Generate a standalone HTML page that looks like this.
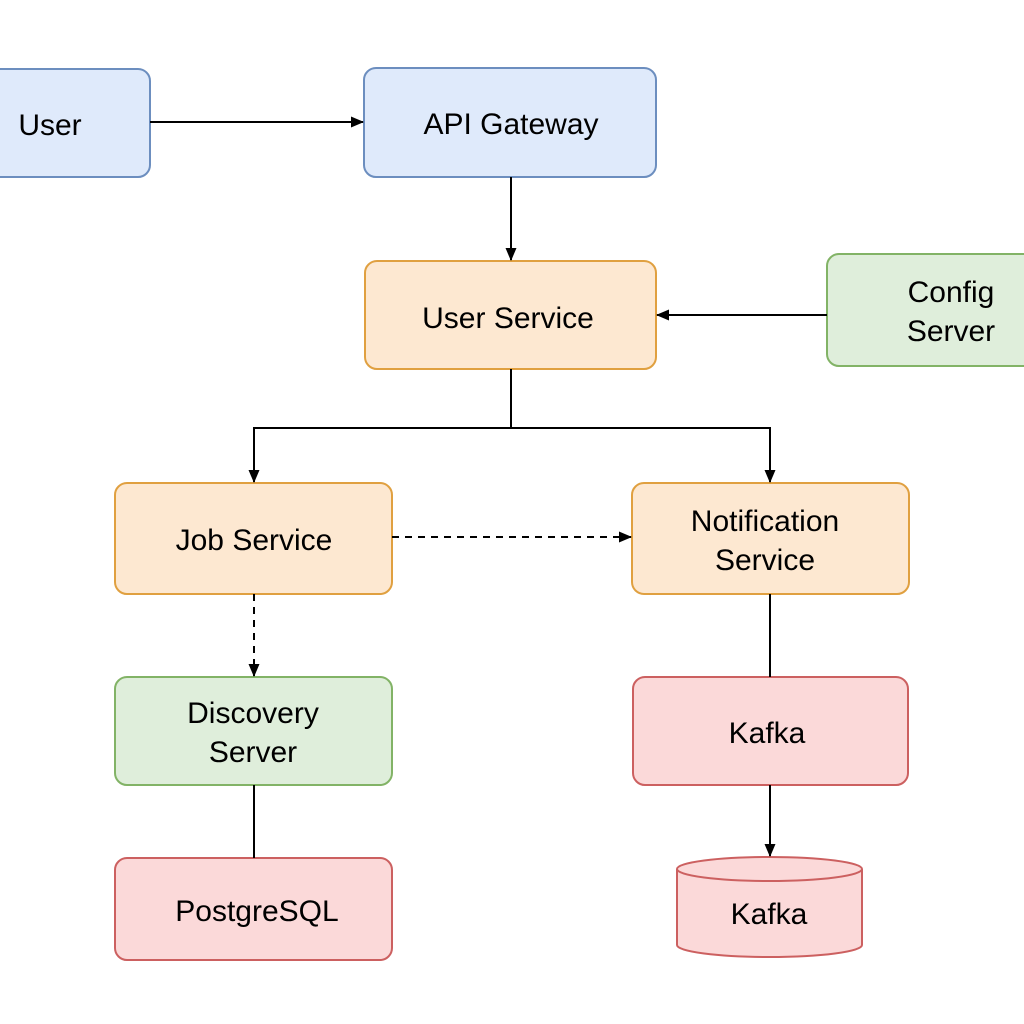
<!DOCTYPE html>
<html><head><meta charset="utf-8"><style>
html,body{margin:0;padding:0;background:#fff;width:1024px;height:1024px;overflow:hidden}
</style></head><body>
<svg width="1024" height="1024" viewBox="0 0 1024 1024" xmlns="http://www.w3.org/2000/svg" font-family="Liberation Sans, sans-serif" font-size="30" fill="#000">
<defs>
<marker id="a" markerWidth="13" markerHeight="11" refX="12" refY="5.5" orient="auto" markerUnits="userSpaceOnUse">
<path d="M0,0 L13,5.5 L0,11 Z" fill="#000"/></marker>
</defs>
<g stroke-width="2">
<rect x="-12" y="69" width="162" height="108" rx="12" fill="#dfeafb" stroke="#6c8ebf"/>
<rect x="364" y="68" width="292" height="109" rx="12" fill="#dfeafb" stroke="#6c8ebf"/>
<rect x="365" y="261" width="291" height="108" rx="12" fill="#fde8d1" stroke="#e0a040"/>
<rect x="827" y="254" width="210" height="112" rx="12" fill="#dfeedb" stroke="#82b366"/>
<rect x="115" y="483" width="277" height="111" rx="12" fill="#fde8d1" stroke="#e0a040"/>
<rect x="632" y="483" width="277" height="111" rx="12" fill="#fde8d1" stroke="#e0a040"/>
<rect x="115" y="677" width="277" height="108" rx="12" fill="#dfeedb" stroke="#82b366"/>
<rect x="633" y="677" width="275" height="108" rx="12" fill="#fbd9d9" stroke="#cc6060"/>
<rect x="115" y="858" width="277" height="102" rx="12" fill="#fbd9d9" stroke="#cc6060"/>
<path d="M677,869 L677,945 A92.5,12 0 0 0 862,945 L862,869" fill="#fbd9d9" stroke="#cc6060"/>
<ellipse cx="769.5" cy="869" rx="92.5" ry="12" fill="#fbd9d9" stroke="#cc6060"/>
</g>
<g stroke="#000" stroke-width="2" fill="none">
<line x1="150" y1="122" x2="363" y2="122" marker-end="url(#a)"/>
<line x1="511" y1="177" x2="511" y2="260" marker-end="url(#a)"/>
<line x1="827" y1="315" x2="657" y2="315" marker-end="url(#a)"/>
<polyline points="511,369 511,428 254,428 254,482" marker-end="url(#a)"/>
<polyline points="511,428 770,428 770,482" marker-end="url(#a)"/>
<line x1="392" y1="537" x2="631" y2="537" stroke-dasharray="7,6" marker-end="url(#a)"/>
<line x1="254" y1="594" x2="254" y2="676" stroke-dasharray="7,6" marker-end="url(#a)"/>
<line x1="254" y1="785" x2="254" y2="858"/>
<line x1="770" y1="594" x2="770" y2="677"/>
<line x1="770" y1="785" x2="770" y2="856" marker-end="url(#a)"/>
</g>
<g text-anchor="middle">
<text x="50" y="135">User</text>
<text x="511" y="134">API Gateway</text>
<text x="508" y="328">User Service</text>
<text x="951" y="302">Config</text>
<text x="951" y="341">Server</text>
<text x="254" y="550">Job Service</text>
<text x="765" y="531">Notification</text>
<text x="765" y="570">Service</text>
<text x="253" y="723">Discovery</text>
<text x="253" y="762">Server</text>
<text x="767" y="743">Kafka</text>
<text x="257" y="921">PostgreSQL</text>
<text x="769" y="924">Kafka</text>
</g>
</svg>
</body></html>
